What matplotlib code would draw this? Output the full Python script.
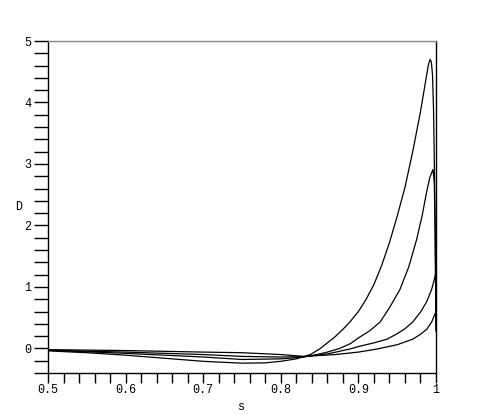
import matplotlib
matplotlib.use("Agg")
import matplotlib.pyplot as plt
from matplotlib.ticker import MultipleLocator

# Curve A (largest peak)
sA = [0.50, 0.55, 0.60, 0.65, 0.70, 0.75, 0.78, 0.80, 0.82, 0.838, 0.85, 0.86, 0.87,
      0.88, 0.889, 0.90, 0.91, 0.92, 0.93, 0.94, 0.95, 0.96, 0.97, 0.98, 0.986,
      0.99, 0.9923, 0.994, 0.9955, 0.9968, 0.998, 0.999, 1.0]
dA = [-0.04, -0.07, -0.11, -0.16, -0.21, -0.24, -0.235, -0.21, -0.17, -0.10, -0.01, 0.09, 0.19,
      0.31, 0.43, 0.60, 0.80, 1.04, 1.35, 1.72, 2.15, 2.62, 3.20, 3.85, 4.30,
      4.60, 4.70, 4.66, 4.45, 3.90, 2.90, 1.70, 0.28]

# Curve B
sB = [0.50, 0.60, 0.70, 0.75, 0.80, 0.83, 0.85, 0.86, 0.876, 0.89, 0.90, 0.915, 0.928,
      0.94, 0.9536, 0.965, 0.975, 0.982, 0.988, 0.992, 0.9961, 0.9978, 0.999, 1.0]
dB = [-0.03, -0.08, -0.14, -0.18, -0.17, -0.14, -0.09, -0.06, 0.0, 0.08, 0.17, 0.29, 0.43,
      0.66, 0.96, 1.33, 1.77, 2.15, 2.55, 2.78, 2.91, 2.70, 1.90, 0.30]

# Curve C
sC = [0.50, 0.60, 0.70, 0.75, 0.80, 0.83, 0.86, 0.889, 0.90, 0.92, 0.937, 0.95, 0.96,
      0.97, 0.98, 0.988, 0.9944, 0.998, 1.0]
dC = [-0.03, -0.06, -0.10, -0.13, -0.14, -0.135, -0.09, -0.01, 0.03, 0.09, 0.15, 0.24, 0.32,
      0.43, 0.59, 0.76, 0.96, 1.13, 1.25]

# Curve D
sD = [0.50, 0.60, 0.70, 0.75, 0.80, 0.83, 0.87, 0.90, 0.924, 0.95, 0.97, 0.98,
      0.988, 0.9944, 1.0]
dD = [-0.02, -0.035, -0.06, -0.07, -0.10, -0.13, -0.10, -0.06, -0.01, 0.06, 0.15, 0.23,
      0.31, 0.43, 0.60]

xticks = [0.5, 0.6, 0.7, 0.8, 0.9, 1.0]
xticklabels = ["0.5", "0.6", "0.7", "0.8", "0.9", "1"]
yticks = [0, 1, 2, 3, 4, 5]
yticklabels = ["0", "1", "2", "3", "4", "5"]

font = "Liberation Mono"
fig = plt.figure(figsize=(4.85, 4.15), dpi=100)
ax = fig.add_axes([48/485, 1 - 373/415, 388/485, 332/415])

for s, d in [(sA, dA), (sB, dB), (sC, dC), (sD, dD)]:
    ax.plot(s, d, color="black", lw=0.9, solid_joinstyle="round")

ax.set_xlim(0.5, 1.0)
ax.set_ylim(-0.4, 5.0)
ax.set_xticks(xticks)
ax.set_xticklabels(xticklabels, family=font, fontsize=8.5)
ax.set_yticks(yticks)
ax.set_yticklabels(yticklabels, family=font, fontsize=8.5)
ax.xaxis.set_minor_locator(MultipleLocator(0.02))
ax.yaxis.set_minor_locator(MultipleLocator(0.2))
ax.tick_params(which="both", direction="out", width=1.0, color="black")
ax.tick_params(axis="x", which="both", length=7, pad=1)
ax.tick_params(axis="y", which="both", length=10, pad=2)

ax.spines["top"].set_color("#888888")
ax.spines["right"].set_color("black")
for sp in ax.spines.values():
    sp.set_linewidth(1.0)

ax.set_xlabel("s", family=font, fontsize=8.5, labelpad=3.5)
ax.set_ylabel("D", family=font, fontsize=8.5, rotation=0, labelpad=4, va="center")

fig.savefig("out.png", dpi=100)
